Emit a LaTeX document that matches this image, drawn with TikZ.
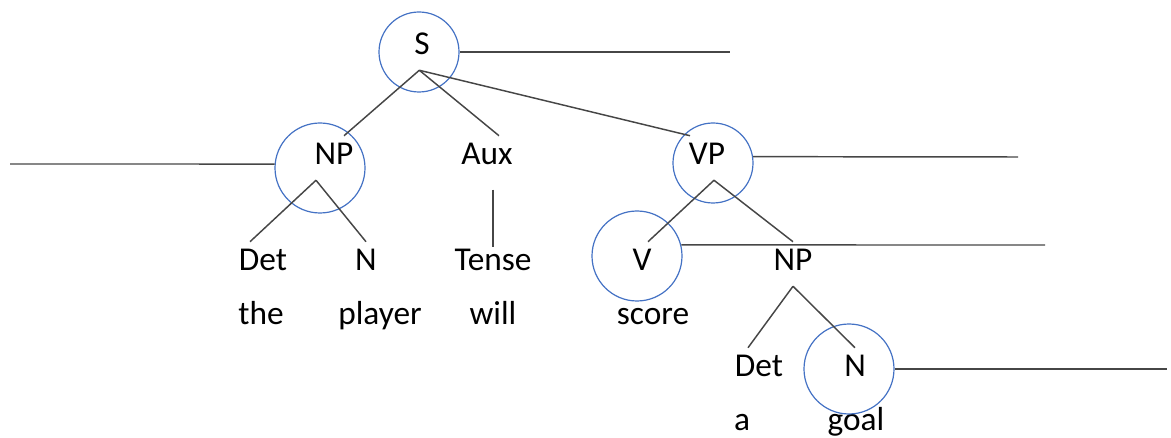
\documentclass[tikz,border=0pt]{standalone}
\usepackage{fontspec}
\setmainfont{Carlito}
\definecolor{ringblue}{RGB}{68,114,196}
\definecolor{twiggray}{RGB}{70,70,70}
\begin{document}
\begin{tikzpicture}[x=0.75pt, y=-0.75pt,
  word/.style = {anchor=base, inner sep=0pt, text height=21.75pt, text depth=11.25pt, font=\fontsize{25}{30}\selectfont},
  ring/.style = {draw=ringblue, line width=0.9pt, circle, inner sep=0pt, minimum size=#1},
  twig/.style = {draw=twiggray, line width=1.1pt}]
\useasboundingbox (0,0) rectangle (1171,438);
% words of the tree
\node[word] (S) at (422,55) {S};
\node[word] (NP) at (334,165) {NP};
\node[word] (Aux) at (487,165) {Aux};
\node[word] (VP) at (707,165) {VP};
\node[word] (Det) at (263,271) {Det};
\node[word] (N) at (366,271) {N};
\node[word] (Tense) at (493,271) {Tense};
\node[word] (V) at (642,271) {V};
\node[word] (NP2) at (793,271) {NP};
\node[word] (the) at (261,325) {the};
\node[word] (player) at (380,325) {player};
\node[word] (will) at (493,325) {will};
\node[word] (score) at (653,325) {score};
\node[word] (Det2) at (759,377) {Det};
\node[word] (N2) at (855,377) {N};
\node[word] (a) at (742,430) {a};
\node[word] (goal) at (856,430) {goal};
% circles
\node[ring=60pt] (cS) at (419,52) {};
\node[ring=67.5pt] (cNP) at (320,168) {};
\node[ring=60pt] (cVP) at (713,163) {};
\node[ring=67.5pt] (cV) at (637,256) {};
\node[ring=67.5pt] (cN2) at (849,369) {};
\coordinate (Sline) at (730,52);
\coordinate (NPline) at (10,164);
\coordinate (VPline) at (1018,157);
\coordinate (Vline) at (1045,245);
\coordinate (N2line) at (1167,369);
% branches
\draw[twig] ([xshift=-2pt]S.south) -- ([xshift=7.5pt]NP.north);
\draw[twig] ([xshift=-2pt]S.south) -- ([xshift=9pt]Aux.north);
\draw[twig] ([xshift=-2pt]S.south) -- ([xshift=-12.75pt]VP.north);
\draw[twig] ([xshift=-13.5pt]NP.south) -- ([xshift=-9.75pt]Det.north);
\draw[twig] ([xshift=-13.5pt]NP.south) -- (N.north);
\draw[twig, shorten <=7pt, shorten >=-4pt] (Tense.north |- Aux.south) -- (Tense.north);
\draw[twig] ([xshift=5.25pt]VP.south) -- ([xshift=4.5pt]V.north);
\draw[twig] ([xshift=5.25pt]VP.south) -- (NP2.north);
\draw[twig] (NP2.south) -- ([xshift=-8.25pt]Det2.north);
\draw[twig] (NP2.south) -- (N2.north);
% lines out of the circles
\draw[twig] (cS.east) -- (Sline);
\draw[twig] (NPline) -- (cNP.175);
\draw[twig] (cVP.9) -- (VPline);
\draw[twig] (cV.14) -- (Vline);
\draw[twig] (cN2.east) -- (N2line);
\end{tikzpicture}
\end{document}
